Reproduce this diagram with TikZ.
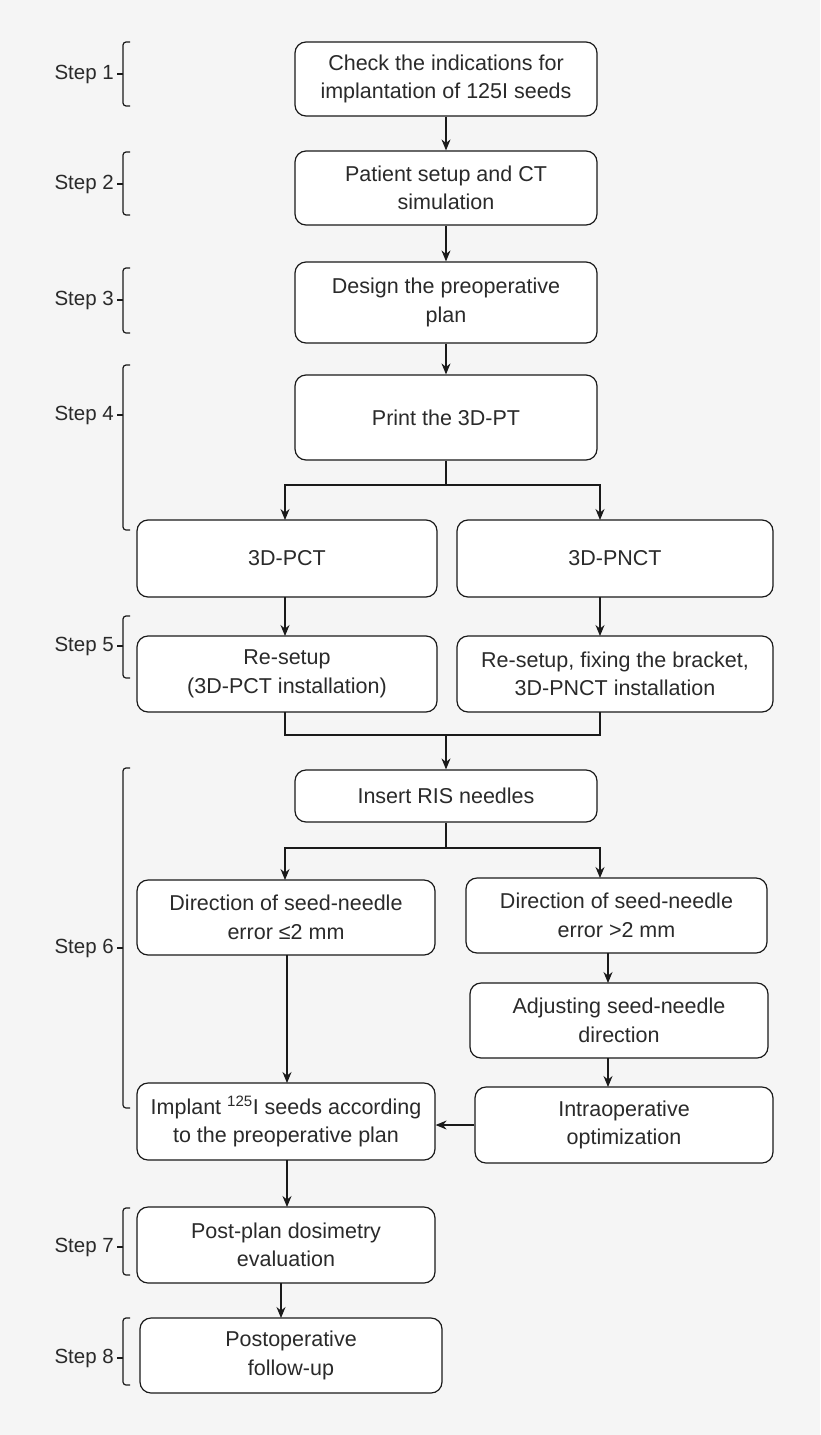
\documentclass[tikz,border=0pt]{standalone}
\usepackage{fontspec}
\setmainfont{Liberation Sans}
\usetikzlibrary{arrows.meta}
\definecolor{bg}{HTML}{F5F5F5}
\definecolor{ln}{HTML}{1A1A1A}
\definecolor{tx}{HTML}{2A2A2A}
\begin{document}
\begin{tikzpicture}[x=1pt,y=-1pt,
  box/.style={draw=ln,line width=1.2pt,rounded corners=11pt,fill=white,align=center,inner sep=0pt,text=tx,
    font=\fontsize{21.5}{28.5}\selectfont},
  arr/.style={-{Stealth[length=11pt,width=9pt]},line width=1.2pt,draw=ln},
  ln/.style={line width=1.2pt,draw=ln},
  steplbl/.style={anchor=east,text=tx,font=\fontsize{20.5}{24}\selectfont,inner sep=2pt}]
\fill[bg] (0,0) rectangle (820,1435);
\useasboundingbox (0,0) rectangle (820,1435);
\newcommand\bx[6]{\node[box,minimum width={#4-#2},minimum height={#5-#3}] (#1) at ({(#2+#4)/2},{(#3+#5)/2}) {#6};}
\bx{b1}{295}{42}{597}{116}{Check the indications for\\implantation of 125I seeds}
\bx{b2}{295}{151}{597}{225}{Patient setup and CT\\simulation}
\bx{b3}{295}{262}{597}{343}{Design the preoperative\\plan}
\bx{b4}{295}{375}{597}{460}{Print the 3D-PT}
\bx{b5l}{137}{520}{437}{597}{3D-PCT}
\bx{b5r}{457}{520}{773}{597}{3D-PNCT}
\bx{b6l}{137}{636}{437}{712}{Re-setup\\(3D-PCT installation)}
\bx{b6r}{457}{636}{773}{712}{Re-setup, fixing the bracket,\\3D-PNCT installation}
\bx{b7}{295}{770}{597}{822}{Insert RIS needles}
\bx{b8l}{137}{880}{435}{955}{Direction of seed-needle\\error ≤2 mm}
\bx{b8r}{466}{878}{767}{953}{Direction of seed-needle\\error >2 mm}
\bx{b9}{470}{983}{768}{1058}{Adjusting seed-needle\\direction}
\bx{b10}{475}{1087}{773}{1163}{Intraoperative\\optimization}
\bx{b11}{137}{1083}{435}{1160}{Implant \textsuperscript{125}I seeds according\\to the preoperative plan}
\bx{b12}{137}{1207}{435}{1283}{Post-plan dosimetry\\evaluation}
\bx{b13}{140}{1318}{442}{1393}{Postoperative\\follow-up}
\coordinate (s1) at (446,485); \coordinate (s2) at (446,735); \coordinate (s3) at (446,848);
\draw[arr] (b1) -- (b2); \draw[arr] (b2) -- (b3); \draw[arr] (b3) -- (b4);
\draw[ln] (b4) -- (s1);
\draw[arr] (s1) -| (285,520); \draw[arr] (s1) -| (600,520);
\draw[arr] (285,597) -- (285,636); \draw[arr] (600,597) -- (600,636);
\draw[ln] (285,712) |- (s2) -| (600,712);
\draw[arr] (s2) -- (b7);
\draw[ln] (b7) -- (s3);
\draw[arr] (s3) -| (285,880); \draw[arr] (s3) -| (600,878);
\draw[arr] (608,953) -- (608,983);
\draw[arr] (608,1058) -- (608,1087);
\draw[arr] (287,955) -- (287,1083);
\draw[arr] (b10.west |- 0,1125) -- (b11.east |- 0,1125);
\draw[arr] (287,1160) -- (287,1207);
\draw[arr] (281,1283) -- (281,1318);
\foreach \t/\b/\m/\s in {42/106/74/1,152/215/184/2,268/333/300/3,365/530/415/4,616/678/646/5,768/1108/948/6,1208/1275/1247/7,1318/1385/1358/8}{
  \draw[ln,rounded corners=3pt] (130,\t) -- (123,\t) -- (123,\b) -- (130,\b);
  \draw[ln] (123,\m) -- (117,\m);
  \node[steplbl] (st\s) at (116,\m) {Step \s};
}
\end{tikzpicture}
\end{document}
